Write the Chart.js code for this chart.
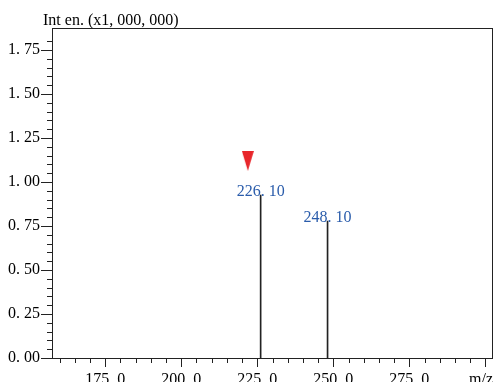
<!DOCTYPE html>
<html>
<head>
<meta charset="utf-8">
<script src="https://cdn.jsdelivr.net/npm/chart.js@4/dist/chart.umd.min.js"></script>
<style>
  html, body { margin: 0; padding: 0; background: #fff; }
  #wrap { width: 494px; height: 382px; }
</style>
</head>
<body>
<div id="wrap"><canvas id="ms-chart"></canvas></div>
<script>
// peaks
const peakMz = [226.1, 248.1];
const peakInt = [0.926, 0.778];
const peakLabels = ['226. 10', '248. 10'];
// red marker above the base peak
const markerMz = [221.9];
const markerInt = [1.12];
// labelled x ticks
const xTickLabels = [175, 200, 225, 250, 275];

const xMin = 160, xMax = 300;
const yMin = 0, yMax = 1.875;

// red down-pointing triangle used as the marker's point style
const tri = document.createElement('canvas');
tri.width = 12; tri.height = 20;
const tctx = tri.getContext('2d');
tctx.fillStyle = '#e8262b';
tctx.beginPath();
tctx.moveTo(0, 0); tctx.lineTo(12, 0); tctx.lineTo(6, 20);
tctx.closePath(); tctx.fill();

const fmtX = v => v.toFixed(1).replace('.', '. ');
const fmtY = v => v.toFixed(2).replace('.', '. ');
const isMajorX = v => Math.round(v) % 25 === 0;
const isMajorY = v => Math.round(v * 100) % 25 === 0;

const spectrumDecor = {
  id: 'spectrumDecor',
  afterDraw(chart) {
    const { ctx, chartArea: a, scales: { x, y } } = chart;
    ctx.save();
    ctx.strokeStyle = '#222';
    ctx.lineWidth = 1;
    // frame
    ctx.strokeRect(a.left + 0.5, a.top + 0.5, a.right - a.left - 1, a.bottom - a.top);
    // x ticks
    ctx.beginPath();
    x.ticks.forEach(t => {
      const v = t.value;
      if (Math.abs(v / 5 - Math.round(v / 5)) > 1e-6) return;
      const px = Math.round(x.getPixelForValue(v)) + 0.5;
      const len = isMajorX(v) ? 9 : 5;
      ctx.moveTo(px, a.bottom);
      ctx.lineTo(px, a.bottom + len);
    });
    // y ticks
    y.ticks.forEach(t => {
      const v = t.value;
      if (Math.abs(v * 20 - Math.round(v * 20)) > 1e-6) return;
      const py = Math.round(y.getPixelForValue(v)) + 0.5;
      const len = isMajorY(v) ? 11 : 5;
      ctx.moveTo(a.left, py);
      ctx.lineTo(a.left - len, py);
    });
    ctx.stroke();

    // peak labels
    ctx.font = '16px "Liberation Serif"';
    ctx.fillStyle = '#2a5cab';
    ctx.textAlign = 'center';
    ctx.textBaseline = 'alphabetic';
    peakMz.forEach((m, i) => {
      ctx.fillText(peakLabels[i], x.getPixelForValue(m), y.getPixelForValue(peakInt[i]) + 0.5);
    });

    // axis titles
    ctx.fillStyle = '#000';
    ctx.textAlign = 'left';
    ctx.fillText('Int en. (x1, 000, 000)', a.left - 9, a.top - 3);
    ctx.fillText('m/z', a.right - 24, a.bottom + 26);
    ctx.restore();
  }
};

new Chart(document.getElementById('ms-chart'), {
  data: {
    datasets: [
      {
        type: 'bar',
        data: peakMz.map((m, i) => ({ x: m, y: peakInt[i] })),
        backgroundColor: '#222',
        barThickness: 1
      },
      {
        type: 'scatter',
        data: markerMz.map((m, i) => ({ x: m, y: markerInt[i] })),
        pointStyle: tri,
        pointRadius: 10
      }
    ]
  },
  options: {
    responsive: true,
    maintainAspectRatio: false,
    animation: false,
    events: [],
    layout: { autoPadding: false, padding: { top: 28, right: 1, left: 0, bottom: 0 } },
    plugins: { legend: { display: false }, tooltip: { enabled: false } },
    scales: {
      x: {
        type: 'linear',
        min: xMin, max: xMax,
        grid: { display: false, drawTicks: true, tickLength: 9 },
        border: { display: false },
        ticks: {
          stepSize: 5, autoSkip: false, maxRotation: 0, padding: 3,
          color: '#000', font: { family: 'Liberation Serif', size: 16 },
          callback: v => xTickLabels.some(l => Math.abs(l - v) < 1e-6) ? fmtX(v) : ''
        },
        afterFit: s => { s.height = 24; s.paddingRight = 0; }
      },
      y: {
        min: yMin, max: yMax,
        grid: { display: false, drawTicks: true, tickLength: 11 },
        border: { display: false },
        ticks: {
          stepSize: 0.05, autoSkip: false, padding: 1,
          color: '#000', font: { family: 'Liberation Serif', size: 16 },
          callback: v => (Math.abs(v * 20 - Math.round(v * 20)) < 1e-6 && isMajorY(v)) ? fmtY(v) : ''
        },
        afterFit: s => { s.width = 52; }
      }
    }
  },
  plugins: [spectrumDecor]
});
</script>
</body>
</html>
